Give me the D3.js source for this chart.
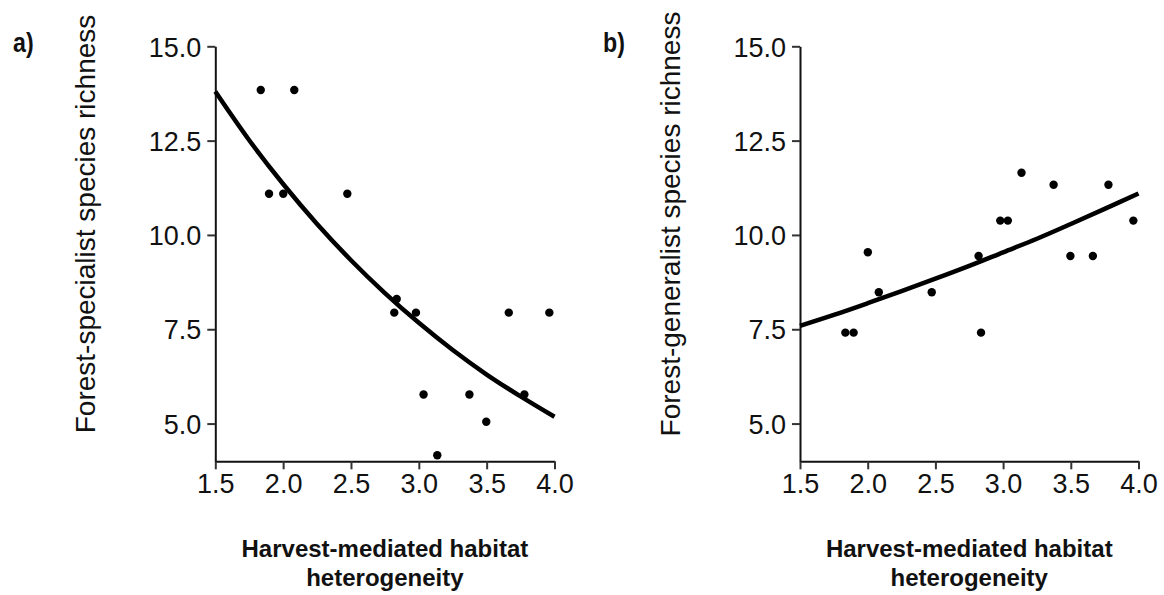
<!DOCTYPE html>
<html>
<head>
<meta charset="utf-8">
<script src="https://cdn.jsdelivr.net/npm/d3@7"></script>
<style>
  html, body { margin: 0; padding: 0; background: #fff; }
  svg { display: block; font-family: "Liberation Sans", Arial, sans-serif; }
</style>
</head>
<body>
<svg id="chart" width="1164" height="595"></svg>
<script>
// ---- data ----
const heterogeneity = [1.835, 1.896, 2.001, 2.082, 2.473, 2.819, 2.837, 2.979, 3.035, 3.136, 3.373, 3.497, 3.663, 3.778, 3.962];
const specialistRichness = [13.84, 11.09, 11.09, 13.84, 11.09, 7.94, 8.30, 7.94, 5.77, 4.16, 5.77, 5.05, 7.94, 5.77, 7.94];
const generalistRichness = [7.41, 7.41, 9.54, 8.48, 8.48, 9.44, 7.41, 10.38, 10.38, 11.65, 11.33, 9.44, 9.44, 11.33, 10.38];

// fitted curves, values
const curveX = [1.5, 1.75, 2.0, 2.25, 2.5, 2.75, 3.0, 3.25, 3.5, 3.75, 4.0];
const specialistFit = [13.80, 12.51, 11.35, 10.29, 9.33, 8.46, 7.67, 6.95, 6.30, 5.72, 5.18];
const generalistFit = [7.59, 7.88, 8.19, 8.51, 8.84, 9.18, 9.54, 9.90, 10.29, 10.69, 11.10];

const xTicks = [1.5, 2.0, 2.5, 3.0, 3.5, 4.0];
const yTicks = [5.0, 7.5, 10.0, 12.5, 15.0];
const xDomain = [1.5, 4.0];
const yDomain = [4.0, 15.0];

const panels = [
  { tag: "a)", ylab: "Forest-specialist species richness", y: specialistRichness, fit: specialistFit,
    x0: 215.3, x1: 554.5, tagX: 13, ylabX: 95 },
  { tag: "b)", ylab: "Forest-generalist species richness", y: generalistRichness, fit: generalistFit,
    x0: 800, x1: 1138.5, tagX: 603, ylabX: 680 }
];
const xLabelLines = ["Harvest-mediated habitat", "heterogeneity"];

const svg = d3.select("#chart");
const ink = "#111";
const yTop = 46.3, yBot = 461.3;

panels.forEach(p => {
  const x = d3.scaleLinear().domain(xDomain).range([p.x0, p.x1]);
  const y = d3.scaleLinear().domain(yDomain).range([yBot, yTop]);
  const g = svg.append("g");

  // x axis
  const xa = g.append("g").attr("transform", `translate(0,${yBot})`)
    .call(d3.axisBottom(x).tickValues(xTicks).tickFormat(d3.format(".1f")).tickSize(8).tickSizeOuter(0).tickPadding(5));
  // y axis
  const ya = g.append("g").attr("transform", `translate(${p.x0},0)`)
    .call(d3.axisLeft(y).tickValues(yTicks).tickFormat(d3.format(".1f")).tickSize(8).tickSizeOuter(0).tickPadding(6));

  [xa, ya].forEach(a => {
    a.select(".domain").attr("stroke", ink).attr("stroke-width", 2);
    a.selectAll(".tick line").attr("stroke", "#333").attr("stroke-width", 2);
    a.selectAll(".tick text").attr("fill", ink).style("font-size", "27px");
  });
  xa.selectAll(".tick text").attr("dy", "0.71em");
  ya.selectAll(".tick text").attr("dy", "0.36em");

  // fitted curve
  const line = d3.line().x((d, i) => x(curveX[i])).y(d => y(d)).curve(d3.curveCatmullRom);
  g.append("path").datum(p.fit).attr("d", line)
    .attr("fill", "none").attr("stroke", "#000").attr("stroke-width", 4.5).attr("stroke-linecap", "butt");

  // points
  g.selectAll("circle.pt").data(p.y).join("circle").attr("class", "pt")
    .attr("cx", (d, i) => x(heterogeneity[i])).attr("cy", d => y(d)).attr("r", 4.2).attr("fill", "#000");

  // y label
  g.append("text").attr("transform", `translate(${p.ylabX},${224}) rotate(-90)`)
    .attr("text-anchor", "middle").attr("fill", ink).style("font-size", "28px").text(p.ylab);

  // x label
  const cx = (p.x0 + p.x1) / 2;
  g.selectAll("text.xl").data(xLabelLines).join("text").attr("class", "xl")
    .attr("x", cx).attr("y", (d, i) => 557 + i * 29).attr("text-anchor", "middle")
    .attr("fill", ink).style("font-size", "24px").style("font-weight", "bold").text(d => d);

  // panel tag
  g.append("text").attr("transform", `translate(${p.tagX},52) scale(0.86,1)`).attr("fill", ink)
    .style("font-size", "27px").style("font-weight", "bold").text(p.tag);
});
</script>
</body>
</html>
